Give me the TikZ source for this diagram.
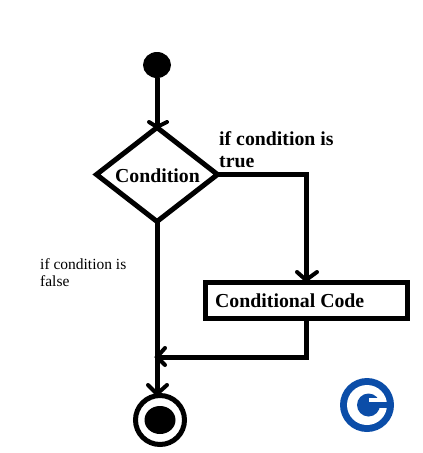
\documentclass[tikz,border=0pt]{standalone}
\usepackage{fontspec}
\setmainfont{Liberation Serif}
\usetikzlibrary{shapes.geometric}
\definecolor{logoblue}{HTML}{0B4DA8}
\tikzset{
  flowline/.style={line width=5pt},
  tipline/.style={line width=4pt,line cap=round},
  decision/.style={draw,diamond,line width=5pt,outer sep=0pt,minimum width=121pt,minimum height=94pt,inner sep=0pt},
  codebox/.style={draw,rectangle,line width=5pt,outer sep=0pt,minimum width=202pt,minimum height=36pt,inner sep=0pt},
  labeltext/.style={font=\bfseries\fontsize{19.8}{22}\selectfont,align=left,inner sep=0pt},
}
\begin{document}
\begin{tikzpicture}[x=1pt,y=-1pt]
\useasboundingbox (0,0) rectangle (423,453);
\node[ellipse,fill=black,minimum width=28pt,minimum height=26pt,inner sep=0pt] (start) at (157,65) {};
\node[decision] (cond) at (157,174.5) {};
\node[labeltext] (condtext) at (157.5,176) {Condition};
\node[codebox] (code) at (306.5,300.5) {};
\node[labeltext,anchor=west] (codetext) at (215,301) {Conditional Code};
\node[circle,draw,line width=5pt,minimum size=49pt,inner sep=0pt] (stop) at (160,420) {};
\node[ellipse,fill=black,minimum width=31pt,minimum height=28pt,inner sep=0pt] (stopdot) at (160,420) {};
\coordinate (corner) at (306,174.5);
\coordinate (elbow) at (306,357);
\coordinate (merge) at (157,357);
\draw[flowline] (start) -- (cond.north);
\draw[flowline] (cond.east) -- (corner) -- (code.north -| corner);
\draw[flowline] (cond.south) -- (stop.north -| cond.south);
\draw[flowline] (code.south -| elbow) -- (elbow) -- (merge);
% arrow heads
\draw[tipline] (149,122) -- (157,127) -- (167,122);
\draw[tipline] (297,272) -- (306,280) -- (317,272);
\draw[tipline] (148,385) -- (157,394) -- (167,385);
\draw[tipline] (165,348) -- (157,357) -- (165,365);
\node[labeltext,anchor=north west] (truetext) at (219,131.5) {if condition is\\true};
\node[font=\fontsize{15.5}{17}\selectfont,align=left,anchor=north west,inner sep=0pt] (falsetext) at (40,258.5) {if condition is\\false};
% logo
\fill[logoblue] (367,405) circle (27);
\fill[white] (367,405) circle (20);
\fill[logoblue] (368.5,405) circle (11.5);
\fill[white] (369,398) rectangle (381,401.5);
\fill[logoblue] (368,401.5) rectangle (388,408);
\end{tikzpicture}
\end{document}
